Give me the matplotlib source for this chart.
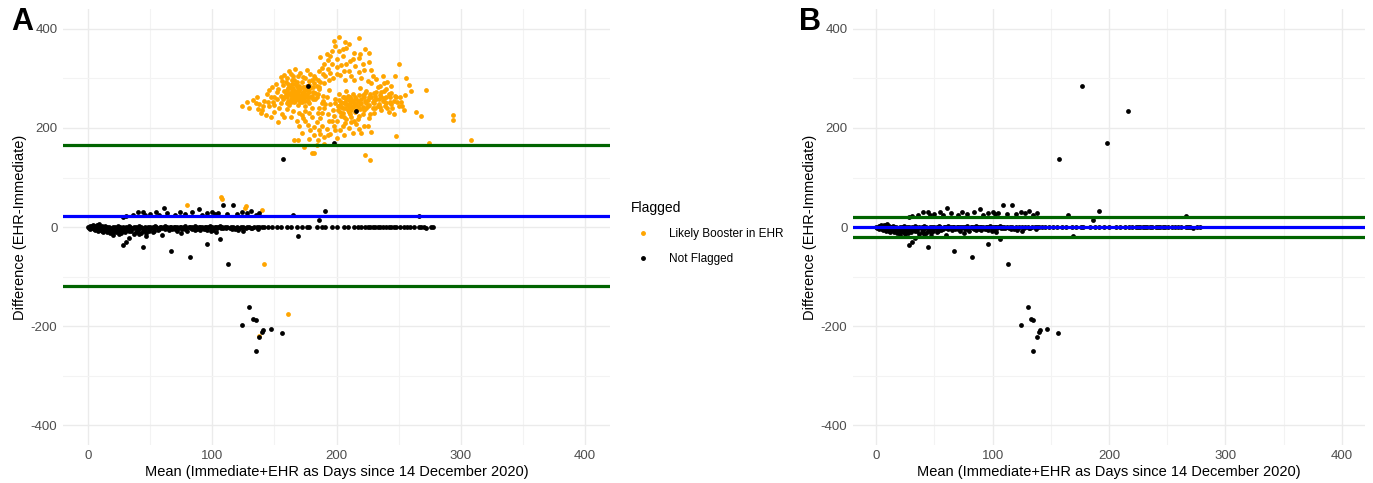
import matplotlib.pyplot as plt
import numpy as np
from matplotlib.lines import Line2D

plt.rcParams['font.family'] = ['Liberation Sans', 'DejaVu Sans']
plt.rcParams['axes.unicode_minus'] = False

# orange points: flagged as likely booster in EHR (mean, difference)
orange_pts = [
    (124, 244), (130, 241), (128, 252), (133, 256), (136, 262), (138, 248), (140, 237), (142, 255),
    (144, 268), (146, 276), (139, 231), (143, 226), (147, 222), (146, 244), (149, 252), (150, 262),
    (152, 272), (148, 283), (151, 289), (153, 279), (155, 265), (155, 250), (154, 240), (156, 228),
    (150, 233), (158, 222), (153, 212), (157, 286), (159, 293), (160, 276), (160, 263), (161, 255),
    (162, 247), (162, 270), (163, 281), (164, 296), (165, 305), (163, 259), (165, 266), (166, 274),
    (166, 252), (167, 261), (168, 269), (168, 285), (169, 246), (170, 257), (170, 277), (171, 265),
    (172, 292), (172, 252), (173, 271), (174, 283), (174, 260), (175, 300), (175, 244), (176, 268),
    (177, 255), (177, 277), (178, 287), (179, 263), (180, 296), (180, 240), (181, 272), (182, 305),
    (183, 258), (184, 285), (185, 268), (185, 231), (186, 315), (187, 292), (188, 250), (187, 221),
    (184, 212), (182, 202), (179, 196), (177, 207), (173, 221), (170, 231), (168, 214), (165, 235),
    (160, 238), (158, 308), (162, 315), (167, 320), (171, 312), (176, 318), (179, 310), (183, 300),
    (188, 322), (172, 226), (175, 234), (180, 222), (182, 186), (186, 195), (188, 205), (190, 182),
    (192, 262), (194, 276), (190, 240), (189, 265), (161, 280), (163, 266), (166, 262), (169, 280),
    (171, 259), (174, 275), (176, 262), (167, 288), (164, 275), (159, 269), (157, 258), (161, 288),
    (187, 343), (192, 350), (196, 355), (199, 365), (202, 383), (205, 360), (207, 373), (210, 370),
    (214, 352), (218, 341), (218, 382), (223, 360), (226, 351), (226, 333), (193, 320), (200, 323),
    (204, 328), (210, 316), (214, 296), (207, 296), (218, 313), (196, 330), (200, 340), (205, 345),
    (211, 335), (215, 326), (222, 318), (228, 318), (197, 300), (203, 308), (198, 375), (193, 338),
    (195, 248), (197, 236), (198, 225), (199, 258), (200, 215), (201, 245), (202, 268), (203, 232),
    (204, 252), (205, 240), (206, 262), (206, 222), (207, 210), (208, 248), (208, 275), (209, 236),
    (210, 256), (211, 228), (212, 244), (213, 268), (214, 250), (214, 215), (215, 232), (216, 258),
    (217, 242), (218, 224), (219, 280), (220, 250), (221, 266), (222, 236), (222, 205), (223, 255),
    (224, 275), (225, 244), (226, 262), (227, 228), (228, 290), (229, 252), (230, 270), (231, 240),
    (232, 258), (233, 283), (234, 248), (235, 266), (236, 236), (237, 255), (238, 275), (239, 244),
    (240, 262), (241, 293), (242, 232), (243, 253), (244, 270), (245, 240), (246, 228), (247, 306),
    (248, 262), (248, 183), (250, 330), (250, 245), (252, 253), (254, 237), (255, 267), (256, 301),
    (258, 287), (260, 275), (264, 232), (268, 225), (272, 276), (274, 170), (294, 227), (294, 217),
    (308, 176), (203, 246), (207, 253), (210, 242), (212, 258), (205, 230), (209, 264), (216, 248),
    (219, 238), (224, 250), (227, 268), (230, 256), (233, 245), (236, 262), (239, 252), (242, 268),
    (192, 198), (195, 188), (198, 205), (200, 180), (203, 195), (206, 185), (210, 200), (213, 190),
    (216, 208), (220, 190), (225, 205), (228, 192), (223, 146), (227, 136), (182, 150), (180, 149),
    (174, 161), (166, 176), (169, 176), (185, 175), (190, 168), (194, 215), (188, 230), (186, 240),
    # extra density in the two lobes and the ridge
    (158, 262), (158, 275), (160, 250), (161, 268), (162, 283), (163, 252), (164, 262), (164, 288),
    (165, 258), (165, 280), (166, 268), (166, 296), (167, 254), (167, 275), (168, 262), (168, 293),
    (169, 258), (169, 272), (170, 265), (170, 285), (171, 252), (171, 278), (172, 262), (172, 270),
    (173, 258), (173, 282), (174, 266), (175, 254), (175, 276), (176, 285), (177, 262), (178, 272),
    (178, 250), (179, 280), (180, 265), (181, 258), (182, 290), (183, 270), (184, 262), (186, 278),
    (152, 258), (150, 246), (147, 262), (145, 252), (141, 244), (137, 238), (135, 250), (156, 295),
    (155, 302), (160, 300), (163, 310), (169, 305), (173, 302), (178, 295), (181, 283), (185, 296),
    (190, 290), (191, 305), (194, 296), (189, 310), (195, 312), (186, 282), (189, 255), (191, 248),
    (199, 250), (201, 236), (202, 256), (204, 242), (205, 262), (206, 250), (207, 240), (208, 258),
    (209, 246), (210, 232), (211, 262), (211, 250), (212, 236), (213, 254), (213, 242), (215, 262),
    (215, 246), (216, 236), (217, 254), (218, 266), (219, 248), (220, 258), (221, 242), (222, 262),
    (223, 270), (224, 240), (225, 256), (226, 246), (228, 262), (229, 240), (230, 250), (231, 264),
    (232, 272), (234, 258), (235, 242), (236, 272), (238, 260), (240, 250), (241, 240), (243, 262),
    (244, 248), (246, 255), (247, 265), (249, 252), (251, 262), (253, 245), (232, 298), (235, 285),
    (238, 290), (240, 278), (244, 285), (237, 305), (229, 305), (225, 295), (220, 300), (212, 305),
    (206, 315), (200, 310), (208, 330), (213, 340), (219, 350), (221, 330), (202, 355), (208, 362),
    (195, 345), (190, 330), (204, 225), (208, 218), (212, 222), (217, 218), (221, 228), (226, 220),
    (230, 230), (196, 215), (193, 228), (199, 195), (205, 205), (212, 212), (218, 198), (193, 185),
    (187, 188), (184, 165), (178, 178), (172, 190), (175, 215), (163, 222), (170, 205), (178, 230),
    (80, 44), (107, 60), (108, 56), (127, 42), (126, 38), (140, 34), (142, -75), (161, -175),
    (138, -220),
]

# black points: not flagged (same set drawn in both panels)
black_band = [
    (0, 1), (1, -1), (2, 2), (3, -3), (4, 0), (5, 3), (5, -5), (6, 1), (7, -2), (8, 4), (8, -8),
    (9, 0), (10, -4), (11, 2), (12, -1), (12, -10), (13, 0), (14, -6), (15, 1), (16, -3), (17, 0),
    (18, -12), (19, -2), (20, 1), (21, -7), (22, 0), (23, -3), (24, 2), (25, -9), (26, 0), (27, -4),
    (28, 1), (29, -2), (30, -11), (31, 0), (32, -5), (33, 2), (34, 0), (35, -8), (36, -1), (37, 1),
    (38, -3), (39, 0), (40, -6), (41, 2), (42, -1), (43, 0), (44, -9), (45, -2), (46, 1), (47, -12),
    (48, 0), (49, -4), (50, 1), (51, -1), (52, 0), (53, -3), (54, 2), (55, 0), (56, -6), (57, -1),
    (58, 1), (59, 0), (60, -3), (61, 0), (62, 2), (63, -1), (64, 0), (65, -2), (66, 1), (67, 0),
    (68, -4), (69, 0), (70, 1), (71, -1), (72, 0), (73, -2), (74, 1), (75, 0), (76, -5), (77, 0),
    (78, 2), (79, -1), (80, -8), (81, 0), (82, 1), (83, -3), (84, 0), (85, -1), (86, 2), (87, 0),
    (88, -4), (89, 0), (90, 1), (91, -2), (92, 0), (93, -1), (94, 1), (95, 0), (96, -6), (97, 0),
    (98, 2), (99, -1), (100, 0), (101, -3), (102, 1), (103, 0), (104, -1), (105, 0), (106, 2),
    (107, -2), (108, 0), (110, 1), (111, -1), (112, 0), (114, -2), (115, 0), (117, 1), (118, -1),
    (120, 0), (122, -3), (123, 0), (125, 1), (127, -1), (128, 0), (130, 0), (132, -1), (134, 0),
    (136, 1), (138, 0), (140, 0), (142, 0), (145, 0), (148, 0), (152, 0), (155, 0), (160, 0),
    (163, 0), (168, 0), (172, 0), (176, 0), (178, 0), (184, 0), (188, 0), (191, 0), (196, 0),
    (200, 0), (206, 0), (209, 0), (214, 0), (217, 0), (220, 0), (223, 0), (225, 0), (227, 0),
    (229, 0), (231, 0), (233, 0), (235, 0), (237, 0), (240, 0), (242, 0), (244, 0), (246, 0),
    (248, 0), (251, 0), (254, 0), (257, 0), (259, 0), (262, 0), (266, 0), (268, 0), (270, 0),
    (272, -1), (276, 0), (278, 0), (10, -6), (22, -8), (25, -14), (33, -9), (37, -15), (43, -13),
    (46, -7), (52, -10), (65, -7), (72, -9), (75, -12), (86, -6), (93, -5), (99, -8), (103, -10),
    (2, -4), (4, 4), (6, -7), (9, 6), (14, 3), (17, -6), (20, -10), (24, -5), (28, -8),
    (3, 3), (7, 5), (11, -9), (15, -11), (19, -5), (23, -11), (27, -13), (31, -6), (35, -3),
    (39, -10), (41, -15), (45, -6), (49, -9), (53, -8), (57, -5), (62, -4), (70, -5), (78, -4),
    (84, -5), (90, -6), (95, -4), (101, -6), (109, -3), (116, -4), (121, -6), (131, -3),
]

black_scatter = [
    (28, 20), (31, 22), (36, 24), (40, 31), (44, 31), (46, 24), (50, 26), (55, 31), (57, 25),
    (61, 38), (64, 29), (70, 24), (74, 31), (78, 26), (84, 30), (89, 37), (92, 24), (96, 29),
    (100, 31), (102, 26), (105, 28), (109, 44), (112, 26), (117, 44), (120, 27), (124, 30),
    (128, 28), (131, 33), (135, 25), (138, 29), (165, 25), (186, 14), (191, 32), (266, 22),
    (20, -17), (28, -36), (31, -30), (33, -22), (44, -40), (47, -18), (60, -16), (67, -48),
    (82, -60), (96, -34), (106, -25), (113, -74), (118, -5), (125, -8), (169, -18), (137, -5),
]

black_outliers = [
    (124, -197), (130, -162), (133, -185), (135, -187), (135, -251), (138, -223), (140, -212),
    (141, -208), (147, -206), (156, -214), (157, 138), (177, 285), (198, 169), (216, 235),
]

# Bland-Altman reference lines
mean_a, upper_a, lower_a = 23, 165, -119
mean_b, upper_b, lower_b = 0.4, 20.2, -19.4

orange = np.array(orange_pts)
black = np.array(black_band + black_scatter + black_outliers)

fig = plt.figure(figsize=(13.73, 4.83), dpi=100)
ax_a = fig.add_axes([0.0459, 0.079, 0.3984, 0.902])
ax_b = fig.add_axes([0.6213, 0.079, 0.3729, 0.902])

grey_txt = '#4D4D4D'
for ax in (ax_a, ax_b):
    ax.set_xlim(-20, 420)
    ax.set_ylim(-440, 440)
    ax.set_xticks([0, 100, 200, 300, 400])
    ax.set_xticks([50, 150, 250, 350], minor=True)
    ax.set_yticks([-400, -200, 0, 200, 400])
    ax.set_yticks([-300, -100, 100, 300], minor=True)
    ax.grid(True, which='major', color='#EBEBEB', lw=1.0)
    ax.grid(True, which='minor', color='#F3F3F3', lw=0.8)
    ax.set_axisbelow(True)
    for s in ax.spines.values():
        s.set_visible(False)
    ax.tick_params(which='both', length=0, labelsize=9.5, labelcolor=grey_txt, pad=4)
    ax.set_xlabel('Mean (Immediate+EHR as Days since 14 December 2020)', fontsize=10.5, labelpad=2)
    ax.set_ylabel('Difference (EHR-Immediate)', fontsize=10.5, labelpad=3)

# panel A
ax_a.scatter(orange[:, 0], orange[:, 1], s=12, color='#FFA500', linewidths=0, zorder=2)
ax_a.scatter(black[:, 0], black[:, 1], s=12, color='black', linewidths=0, zorder=2)
ax_a.axhline(upper_a, color='#006400', lw=2.3, zorder=3)
ax_a.axhline(lower_a, color='#006400', lw=2.3, zorder=3)
ax_a.axhline(mean_a, color='#0000FF', lw=2.3, zorder=3)

# panel B
ax_b.scatter(black[:, 0], black[:, 1], s=12, color='black', linewidths=0, zorder=2)
ax_b.axhline(upper_b, color='#006400', lw=2.3, zorder=3)
ax_b.axhline(lower_b, color='#006400', lw=2.3, zorder=3)
ax_b.axhline(mean_b, color='#0000FF', lw=2.3, zorder=3)

handles = [
    Line2D([], [], marker='o', ls='', color='#FFA500', markersize=2.5),
    Line2D([], [], marker='o', ls='', color='black', markersize=2.5),
]
fig.legend(handles, ['Likely Booster in EHR', 'Not Flagged'], title='Flagged',
           loc='upper left', bbox_to_anchor=(0.452, 0.605), frameon=False,
           fontsize=8.5, title_fontsize=10, alignment='left',
           handletextpad=1.2, labelspacing=1.1)

fig.text(0.008, 0.985, 'A', fontsize=22, fontweight='bold', va='top')
fig.text(0.582, 0.985, 'B', fontsize=22, fontweight='bold', va='top')

fig.savefig('out.png', dpi=100, facecolor='white')
